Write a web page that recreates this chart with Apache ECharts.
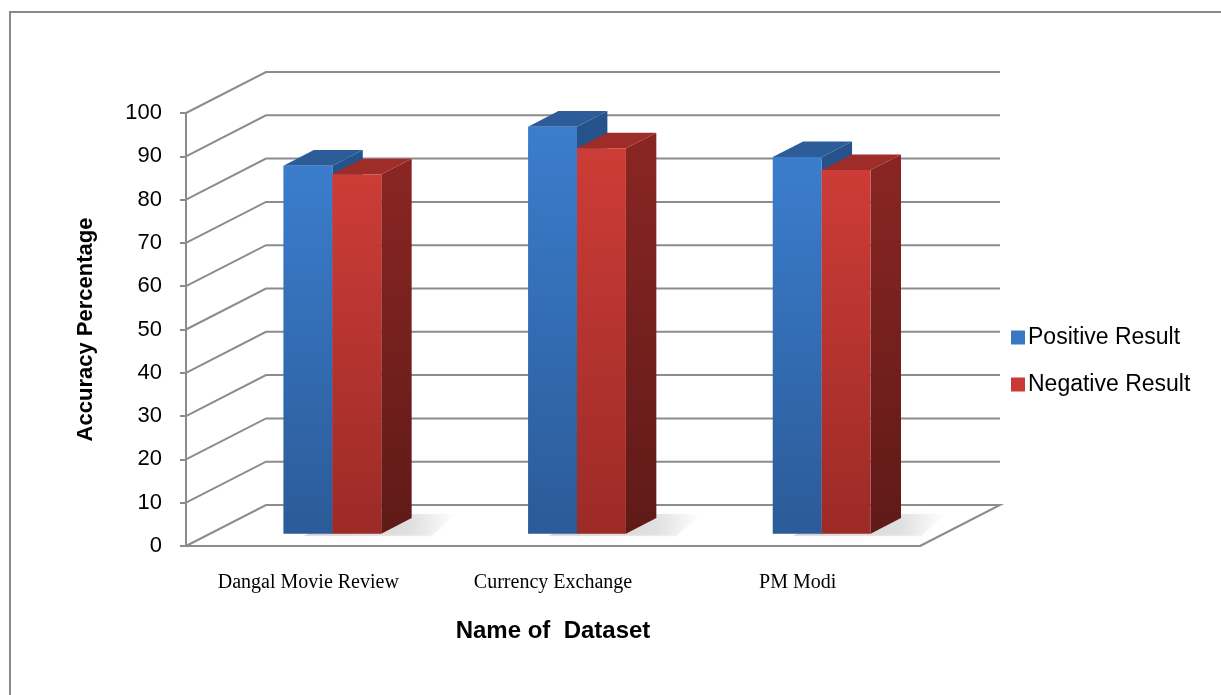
<!DOCTYPE html>
<html>
<head>
<meta charset="utf-8">
<script src="https://cdn.jsdelivr.net/npm/echarts@6/dist/echarts.min.js"></script>
<style>
  html, body { margin: 0; padding: 0; background: #ffffff; }
  #chart { width: 1221px; height: 695px; }
</style>
</head>
<body>
<div id="chart"></div>
<script>
// Accuracy of sentiment results per dataset
const categories = ['Dangal Movie Review', 'Currency Exchange', 'PM Modi'];
const positiveResult = [85, 94, 87];
const negativeResult = [83, 89, 84];
const yTicks = [0, 10, 20, 30, 40, 50, 60, 70, 80, 90, 100];
const seriesNames = ['Positive Result', 'Negative Result'];

// Oblique projection of the plot box: how far the back wall sits from the front plane
const DEPTH = [80, -41];
const BAR_FRONT = 0.3;   // depth fraction where the bar front faces stand
const BAR_DEPTH = 0.38;  // depth fraction taken by each bar
const BAR_WIDTH = 0.2;   // bar width as a fraction of the category band

const GRID_COLOR = '#8c8c8c';
const SANS = '"Liberation Sans", Arial, sans-serif';
const SERIF = '"Liberation Serif", "Times New Roman", serif';

const chart = echarts.init(document.getElementById('chart'), null, { renderer: 'canvas' });

// Left wall slants, back wall gridlines and the floor's right edge
function wallRenderItem(params, api) {
  const cs = params.coordSys;
  const v = api.value(1);
  const y = api.coord([0, v])[1];
  const pts = [
    [cs.x, y],
    [cs.x + DEPTH[0], y + DEPTH[1]],
    [cs.x + cs.width + DEPTH[0], y + DEPTH[1]]
  ];
  if (v === 0) pts.push([cs.x + cs.width, y]);
  return {
    type: 'polyline',
    shape: { points: pts },
    style: { stroke: GRID_COLOR, lineWidth: 2, fill: null }
  };
}

function vGrad(top, bottom) {
  return new echarts.graphic.LinearGradient(0, 0, 0, 1, [
    { offset: 0, color: top }, { offset: 1, color: bottom }
  ]);
}

const palette = [
  { front: ['#3b7dcd', '#2b5b98'], top: '#2c5d99', side: ['#27538c', '#1f4475'] },
  { front: ['#cd3c37', '#9c2a27'], top: '#9e2c29', side: ['#8a2623', '#5f1a18'] }
];

// One 3D column: front face, top face and right side face
function barRenderItem(seriesIndex) {
  const col = palette[seriesIndex];
  return function (params, api) {
    const idx = api.value(0);
    const v = api.value(1);
    const base = api.coord([idx, 0]);
    const top = api.coord([idx, v]);
    const band = api.size([1, 0])[0];
    const w = band * BAR_WIDTH;
    const fx = base[0] + (seriesIndex === 0 ? -w : 0) + DEPTH[0] * BAR_FRONT;
    const fyTop = top[1] + DEPTH[1] * BAR_FRONT;
    const fyBot = base[1] + DEPTH[1] * BAR_FRONT;
    const dx = DEPTH[0] * BAR_DEPTH;
    const dy = DEPTH[1] * BAR_DEPTH;
    const children = [];
    if (seriesIndex === 0) {
      // soft shadow cast on the floor behind the group
      const gx = fx;
      const gw = 2 * w;
      children.push({
        type: 'polygon',
        shape: { points: [
          [gx + 20, fyBot + 2], [gx + gw + dx + 20, fyBot + 2],
          [gx + gw + dx + 45, fyBot + dy - 4], [gx + dx + 40, fyBot + dy - 4]
        ] },
        style: {
          fill: new echarts.graphic.LinearGradient(0, 0, 1, 0, [
            { offset: 0, color: 'rgba(0,0,0,0.16)' },
            { offset: 0.7, color: 'rgba(0,0,0,0.10)' },
            { offset: 1, color: 'rgba(0,0,0,0.0)' }
          ]),
          shadowBlur: 10, shadowColor: 'rgba(0,0,0,0.25)'
        }
      });
    }
    children.push({
      type: 'polygon',
      shape: { points: [[fx + w, fyTop], [fx + w + dx, fyTop + dy], [fx + w + dx, fyBot + dy], [fx + w, fyBot]] },
      style: { fill: vGrad(col.side[0], col.side[1]) }
    });
    children.push({
      type: 'polygon',
      shape: { points: [[fx, fyTop], [fx + w, fyTop], [fx + w + dx, fyTop + dy], [fx + dx, fyTop + dy]] },
      style: { fill: col.top }
    });
    children.push({
      type: 'rect',
      shape: { x: fx, y: fyTop, width: w, height: fyBot - fyTop },
      style: { fill: vGrad(col.front[0], col.front[1]) }
    });
    return { type: 'group', children: children };
  };
}

const option = {
  animation: false,
  backgroundColor: '#ffffff',
  graphic: [{
    type: 'rect', silent: true, z: -10,
    shape: { x: 10, y: 12, width: 1400, height: 900 },
    style: { fill: null, stroke: '#8a8a8a', lineWidth: 2 }
  }],
  grid: { left: 186, right: 301, top: 113, bottom: 149, containLabel: false },
  legend: {
    orient: 'vertical',
    left: 1006,
    top: 321,
    itemWidth: 14,
    itemHeight: 14,
    itemGap: 24,
    icon: 'rect',
    textStyle: { fontFamily: SANS, fontSize: 23, color: '#000000', padding: [0, 0, 0, -2] },
    data: seriesNames
  },
  xAxis: {
    type: 'category',
    data: categories,
    boundaryGap: true,
    name: 'Name of  Dataset',
    nameLocation: 'middle',
    nameGap: 73,
    nameTextStyle: { fontFamily: SANS, fontSize: 24, fontWeight: 'bold', color: '#000000' },
    axisLine: { show: true, lineStyle: { color: GRID_COLOR, width: 2 } },
    axisTick: { show: false },
    axisLabel: { fontFamily: SERIF, fontSize: 20, color: '#000000', margin: 27, interval: 0 },
    splitLine: { show: false }
  },
  yAxis: {
    type: 'value',
    min: 0,
    max: 100,
    interval: 10,
    name: 'Accuracy Percentage',
    nameLocation: 'middle',
    nameRotate: 90,
    nameGap: 89,
    nameTextStyle: { fontFamily: SANS, fontSize: 22, fontWeight: 'bold', color: '#000000' },
    axisLine: { show: true, lineStyle: { color: GRID_COLOR, width: 2 } },
    axisTick: { show: true, length: 6, lineStyle: { color: GRID_COLOR, width: 2 } },
    axisLabel: { fontFamily: SANS, fontSize: 22, color: '#000000', margin: 24 },
    splitLine: { show: false }
  },
  series: [
    {
      type: 'custom',
      name: 'walls',
      silent: true,
      z: 1,
      renderItem: wallRenderItem,
      encode: { x: 0, y: 1 },
      data: yTicks.map(function (v) { return [0, v]; })
    },
    {
      type: 'custom',
      name: seriesNames[0],
      z: 2,
      itemStyle: { color: '#3a78c6' },
      renderItem: barRenderItem(0),
      encode: { x: 0, y: 1 },
      data: positiveResult.map(function (v, i) { return [i, v]; })
    },
    {
      type: 'custom',
      name: seriesNames[1],
      z: 3,
      itemStyle: { color: '#c93a35' },
      renderItem: barRenderItem(1),
      encode: { x: 0, y: 1 },
      data: negativeResult.map(function (v, i) { return [i, v]; })
    }
  ]
};

chart.setOption(option);
</script>
</body>
</html>
